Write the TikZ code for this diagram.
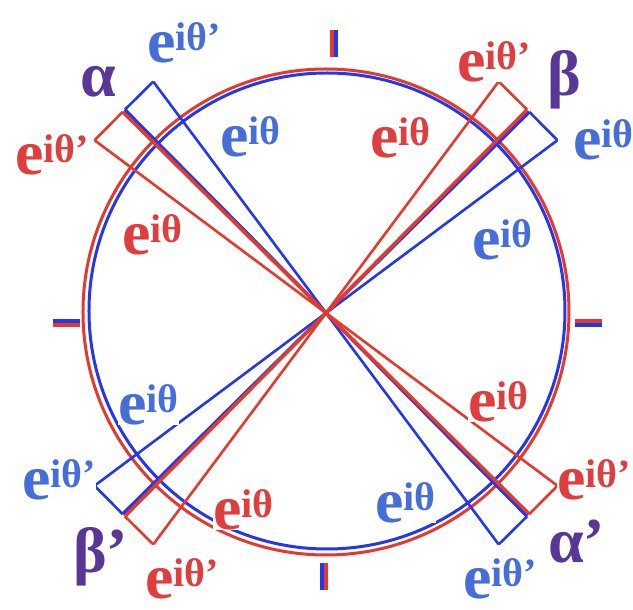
\documentclass[tikz,border=0pt]{standalone}
\usepackage{fontspec}
\setmainfont{Liberation Serif}
\usetikzlibrary{calc}
\definecolor{dored}{RGB}{228,58,45}
\definecolor{doblue}{RGB}{35,55,235}
\definecolor{chured}{RGB}{222,62,62}
\definecolor{chublue}{RGB}{70,110,215}
\definecolor{chutim}{RGB}{88,55,150}
\newcommand{\eith}{e\raisebox{.2em}{\fontsize{40}{40}\selectfont iθ}}
\newcommand{\eithp}{e\raisebox{.2em}{\fontsize{40}{40}\selectfont iθ’}}

\begin{document}
\begin{tikzpicture}[x=1pt, y=1pt,
    lbl/.style={font=\fontsize{64}{64}\selectfont\bfseries, anchor=base west, fill=white, inner sep=0pt, text depth=0pt},
    duongkinh/.style={line width=3.5},
    canh/.style={line width=2.6}]
    \useasboundingbox (-326,-297) rectangle (307,313);

    % Đường tròn
    \draw[doblue, line width=3] (1,2) circle[radius=238];
    \draw[dored, line width=3] (0,1) circle[radius=243];

    % Vạch chia
    \draw[doblue, line width=4] (-273,-8) -- (-246,-8);
    \draw[dored, line width=4] (-273,-12) -- (-246,-12);
    \draw[dored, line width=4] (249,-8.5) -- (276,-8.5);
    \draw[doblue, line width=4] (249,-12.5) -- (276,-12.5);
    \draw[dored, line width=4] (6.5,256) -- (6.5,283);
    \draw[doblue, line width=4] (10.5,256) -- (10.5,283);
    \draw[doblue, line width=4] (-4,-250) -- (-4,-277);
    \draw[dored, line width=4] (0,-250) -- (0,-277);

    % Hình xanh
    \foreach \g in {134.7,44.7}{
        \draw[doblue, duongkinh] (\g:286) -- (\g+180:286);
        \draw[doblue, canh] ($(\g:286)+(\g-90:40)$) -- ($(\g+180:286)+(\g+90:40)$);
        \draw[doblue, canh] (\g:286) -- ++(\g-90:40);
        \draw[doblue, canh] (\g+180:286) -- ++(\g+90:40);
    }

    % Hình đỏ
    \foreach \g in {135.3,45.3}{
        \draw[dored, duongkinh] (\g:286) -- (\g+180:286);
        \draw[dored, canh] ($(\g:286)+(\g+90:40)$) -- ($(\g+180:286)+(\g-90:40)$);
        \draw[dored, canh] (\g:286) -- ++(\g+90:40);
        \draw[dored, canh] (\g+180:286) -- ++(\g-90:40);
    }

    % Nhãn
    \node[lbl, text=chutim] (alpha) at (-246,216) {α};
    \node[lbl, text=chutim] (beta) at (221,217) {β};
    \node[lbl, text=chutim] (betap) at (-253,-260) {β’};
    \node[lbl, text=chutim] (alphap) at (222,-250) {α’};

    \node[lbl, text=chublue] (b1) at (-179,250) {\eithp};
    \node[lbl, text=chublue] (b2) at (-106,156) {\eith};
    \node[lbl, text=chublue] (b3) at (247,153) {\eithp};
    \node[lbl, text=chublue] (b4) at (146,53) {\eith};
    \node[lbl, text=chublue] (b5) at (-208,-112) {\eith};
    \node[lbl, text=chublue] (b6) at (-304,-187) {\eithp};
    \node[lbl, text=chublue] (b7) at (49,-210) {\eith};
    \node[lbl, text=chublue] (b8) at (137,-286) {\eithp};

    \node[lbl, text=chured] (r1) at (-311,138) {\eithp};
    \node[lbl, text=chured] (r2) at (-204,58) {\eith};
    \node[lbl, text=chured] (r3) at (131,231) {\eithp};
    \node[lbl, text=chured] (r4) at (44,155) {\eith};
    \node[lbl, text=chured] (r5) at (-113,-217) {\eith};
    \node[lbl, text=chured] (r6) at (-181,-286) {\eithp};
    \node[lbl, text=chured] (r7) at (142,-109) {\eith};
    \node[lbl, text=chured] (r8) at (231,-187) {\eithp};
\end{tikzpicture}
\end{document}
